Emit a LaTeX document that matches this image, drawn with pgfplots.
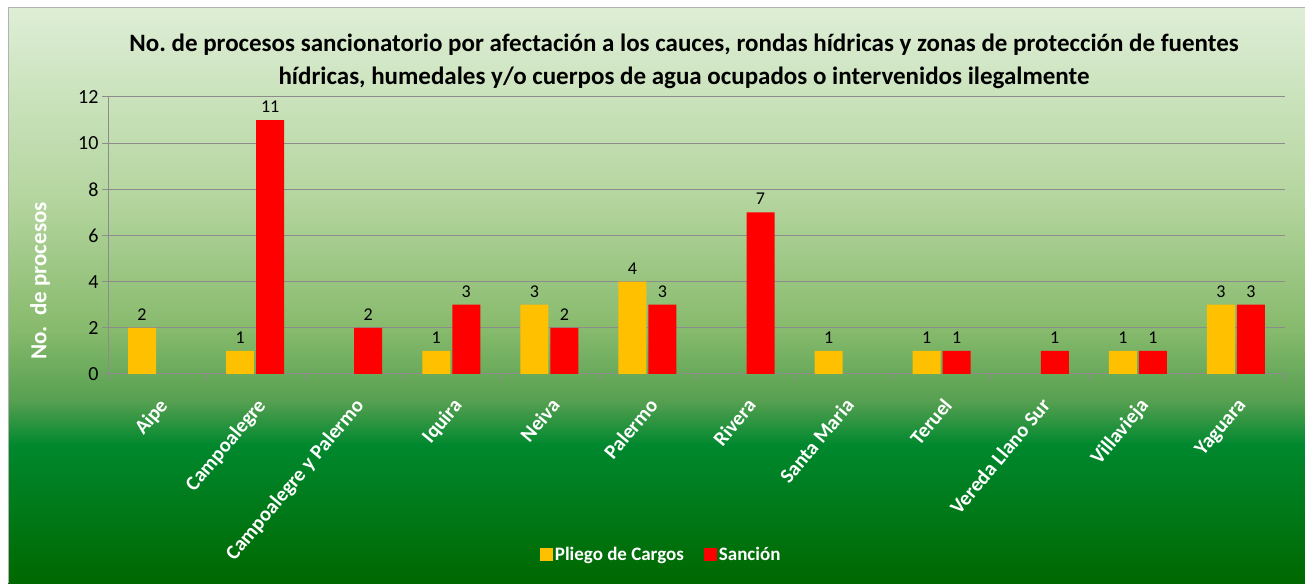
\documentclass[border=0pt]{standalone}
\usepackage{pgfplots}
\pgfplotsset{compat=1.18}
\usepackage{fontspec}
\setmainfont{Carlito}
\definecolor{g0}{RGB}{222,238,214}
\definecolor{g1}{RGB}{180,213,158}
\definecolor{g2}{RGB}{135,186,108}
\definecolor{g3}{RGB}{88,160,82}
\definecolor{g4}{RGB}{0,136,46}
\definecolor{g5}{RGB}{0,104,0}
\definecolor{gridgray}{RGB}{140,140,140}
\definecolor{pliego}{RGB}{255,192,0}
\definecolor{sancion}{RGB}{255,0,0}
\begin{document}
\begin{tikzpicture}[x=1pt,y=1pt]
\useasboundingbox (0,0) rectangle (1305,583);
\shade[top color=g0,bottom color=g1] (8,575) rectangle (1305,383);
\shade[top color=g1,bottom color=g2] (8,383.3) rectangle (1305,253);
\shade[top color=g2,bottom color=g3] (8,253.3) rectangle (1305,183);
\shade[top color=g3,bottom color=g4] (8,183.3) rectangle (1305,138);
\shade[top color=g4,bottom color=g5] (8,138.3) rectangle (1305,0);
\draw[gray!60, line width=1pt] (8,0) -- (8,575.5) -- (1305,575.5);
\node[font=\bfseries\fontsize{25}{33}\selectfont, align=center, text=black] at (684,521.5)
 {No.\ de procesos sancionatorio por afectación a los cauces, rondas hídricas y zonas de protección de fuentes\\hídricas, humedales y/o cuerpos de agua ocupados o intervenidos ilegalmente};
\node[rotate=90, font=\bfseries\fontsize{23}{26}\selectfont, text=white] at (40,302) {No.\ \ de procesos};
\begin{axis}[
  at={(108pt,209pt)}, anchor=south west,
  scale only axis, width=1177pt, height=277pt,
  ybar, bar width=28pt,
  xmin=-0.5, xmax=11.5, ymin=0, ymax=12,
  ytick={0,2,...,12},
  xtick={0,...,11},
  xticklabels={Aipe,Campoalegre,Campoalegre y Palermo,Iquira,Neiva,Palermo,Rivera,Santa Maria,Teruel,Vereda Llano Sur,Villavieja,Yaguara},
  minor xtick={-0.5,0.5,...,11.5},
  axis x line*=bottom, axis y line*=left,
  axis line style={gridgray, line width=1pt},
  ymajorgrids, grid style={gridgray, line width=1pt},
  tick align=outside, major tick length=6pt, minor tick length=7pt,
  major x tick style={draw=none},
  minor x tick style={gridgray, line width=1pt},
  major y tick style={gridgray, line width=1pt},
  /pgf/number format/assume math mode=true,
  yticklabel style={font=\fontsize{20}{22}\selectfont, text=black},
  xticklabel style={font=\bfseries\fontsize{20.5}{24}\selectfont, text=white, xshift=0pt, yshift=-12pt, rotate=50, anchor=north east},
  nodes near coords,
  every node near coord/.append style={font=\fontsize{18}{20}\selectfont, text=black, yshift=4pt},
  legend columns=2,
  legend style={at={(0.47,-0.653)}, anchor=center, draw=none, fill=none, text=white,
    font=\bfseries\fontsize{19}{22}\selectfont,
    /tikz/every even column/.append style={column sep=18pt}},
  legend image code/.code={\fill[#1,draw=none] (0pt,-6.5pt) rectangle (13pt,6.5pt);},
]
\addplot[fill=pliego, draw=none] coordinates {(0,2) (1,1) (3,1) (4,3) (5,4) (7,1) (8,1) (10,1) (11,3)};
\addplot[fill=sancion, draw=none] coordinates {(1,11) (2,2) (3,3) (4,2) (5,3) (6,7) (8,1) (9,1) (10,1) (11,3)};
\legend{Pliego de Cargos, Sanción}
\end{axis}
\end{tikzpicture}
\end{document}
